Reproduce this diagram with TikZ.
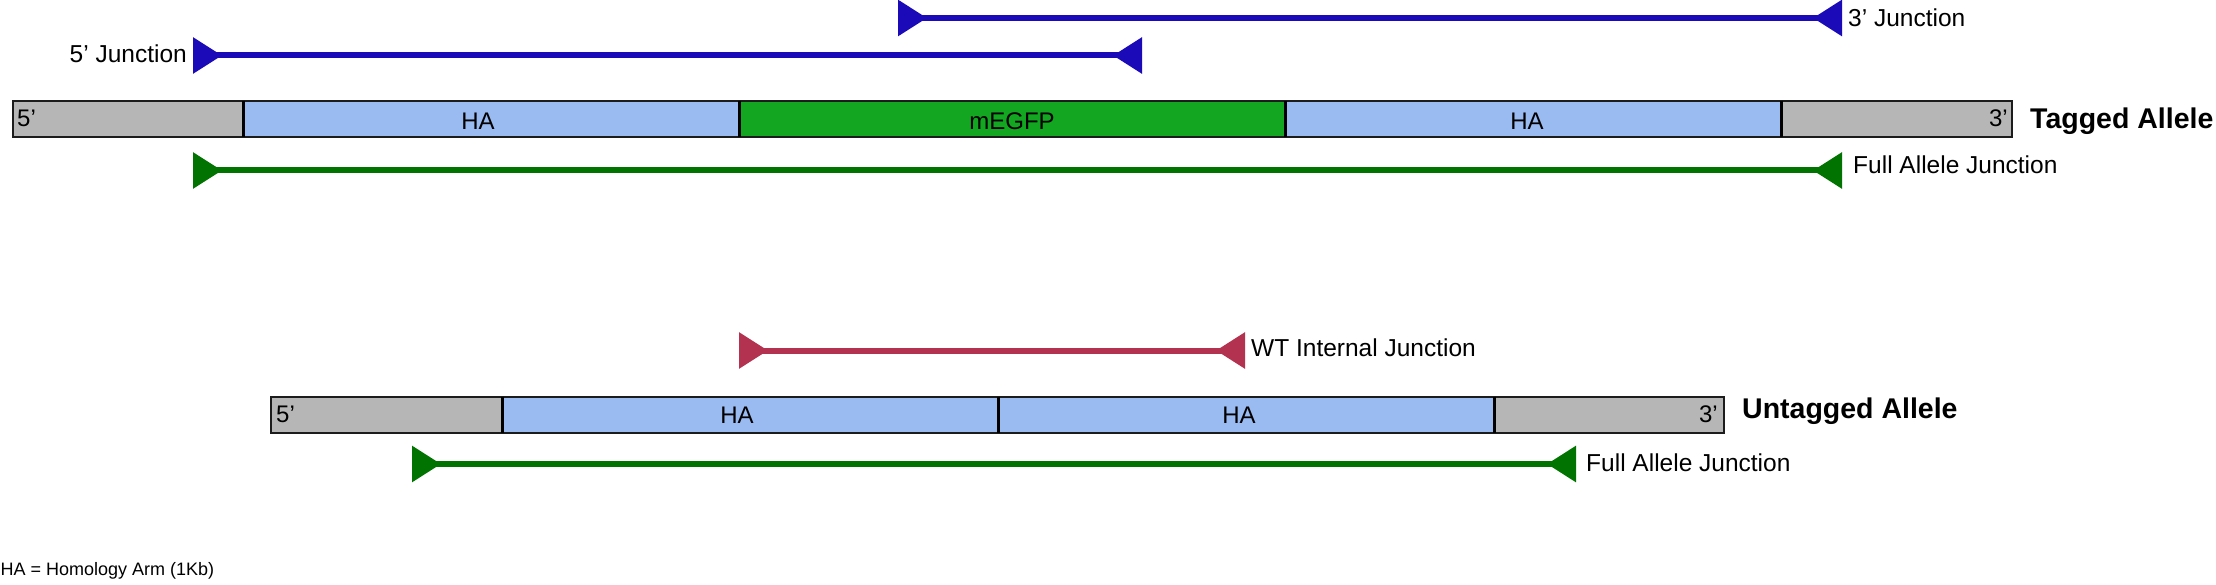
\documentclass[tikz,border=0pt]{standalone}
\usepackage{fontspec}
\setmainfont{Liberation Sans}
\usetikzlibrary{arrows.meta}
\definecolor{greyseg}{HTML}{B6B6B6}
\definecolor{haseg}{HTML}{9ABBF2}
\definecolor{gfpseg}{HTML}{13A621}
\definecolor{jblue}{HTML}{1A0AB8}
\definecolor{jgreen}{HTML}{007300}
\definecolor{jred}{HTML}{B3324F}
\definecolor{edgecol}{HTML}{1C1C1C}
\begin{document}
\begin{tikzpicture}[x=1pt,y=-1pt,
 seg/.style={draw=edgecol, line width=2pt, inner sep=0pt, outer sep=0pt, anchor=north west, minimum height=36pt},
 sepline/.style={draw=black, line width=3pt},
 lbl/.style={font=\fontsize{24.5}{29}\selectfont, inner sep=0pt, anchor=base west},
 intxt/.style={font=\fontsize{24}{29}\selectfont, inner sep=0pt, anchor=base},
 titletxt/.style={font=\fontsize{28.5}{34}\selectfont\bfseries, inner sep=0pt, anchor=base west},
 junction/.style={line width=6pt, {Triangle[reversed,length=29pt,width=35pt]}-{Triangle[reversed,length=29pt,width=35pt]}},
]
\useasboundingbox (0,0) rectangle (2216,585);

% Tagged allele
\node[seg, fill=greyseg, minimum width=231pt] (t5) at (12.5,101) {};
\node[seg, fill=haseg, minimum width=495.5pt] (tha1) at (243.5,101) {};
\node[seg, fill=gfpseg, minimum width=546pt] (tgfp) at (739,101) {};
\node[seg, fill=haseg, minimum width=496pt] (tha2) at (1285,101) {};
\node[seg, fill=greyseg, minimum width=230.5pt] (t3) at (1781,101) {};
\draw[sepline] (t5.north east) -- (t5.south east);
\draw[sepline] (tha1.north east) -- (tha1.south east);
\draw[sepline] (tgfp.north east) -- (tgfp.south east);
\draw[sepline] (tha2.north east) -- (tha2.south east);

\node[intxt, anchor=base west] (t5txt) at (17,127) {5’};
\node[intxt, anchor=base east] (t3txt) at (2008,127) {3’};
\node[intxt] (tha1txt) at (478,129.5) {HA};
\node[intxt] (tgfptxt) at (1012,129.5) {mEGFP};
\node[intxt] (tha2txt) at (1527,129.5) {HA};
\node[titletxt] (tagged) at (2030,129) {Tagged Allele};

% Tagged junctions
\coordinate (j5L) at (193,55.5);
\coordinate (j5R) at (1142,55.5);
\draw[junction, jblue] (j5L) -- (j5R);
\node[lbl, anchor=base east] (j5txt) at (187,63) {5’ Junction};

\coordinate (j3L) at (898,18);
\coordinate (j3R) at (1842,18);
\draw[junction, jblue] (j3L) -- (j3R);
\node[lbl] (j3txt) at (1848,27) {3’ Junction};

\coordinate (jtL) at (193,170.5);
\coordinate (jtR) at (1842,170.5);
\draw[junction, jgreen] (jtL) -- (jtR);
\node[lbl] (jttxt) at (1853,173.5) {Full Allele Junction};

% Untagged allele
\node[seg, fill=greyseg, minimum width=231pt] (u5) at (271,396.5) {};
\node[seg, fill=haseg, minimum width=496pt] (uha1) at (502,396.5) {};
\node[seg, fill=haseg, minimum width=496pt] (uha2) at (998,396.5) {};
\node[seg, fill=greyseg, minimum width=230pt] (u3) at (1494,396.5) {};
\draw[sepline] (u5.north east) -- (u5.south east);
\draw[sepline] (uha1.north east) -- (uha1.south east);
\draw[sepline] (uha2.north east) -- (uha2.south east);

\node[intxt, anchor=base west] (u5txt) at (276,422) {5’};
\node[intxt, anchor=base east] (u3txt) at (1718,422) {3’};
\node[intxt] (uha1txt) at (737,423.5) {HA};
\node[intxt] (uha2txt) at (1239,423.5) {HA};
\node[titletxt] (untagged) at (1742,418) {Untagged Allele};

% Untagged junctions
\coordinate (jwL) at (739,350.5);
\coordinate (jwR) at (1245,350.5);
\draw[junction, jred] (jwL) -- (jwR);
\node[lbl] (jwtxt) at (1251,356.5) {WT Internal Junction};

\coordinate (juL) at (412,464);
\coordinate (juR) at (1576,464);
\draw[junction, jgreen] (juL) -- (juR);
\node[lbl] (jutxt) at (1586,471) {Full Allele Junction};

% Footnote
\node[font=\fontsize{18}{22}\selectfont, inner sep=0pt, anchor=base west] (note) at (0.5,575) {HA = Homology Arm (1Kb)};
\end{tikzpicture}
\end{document}
